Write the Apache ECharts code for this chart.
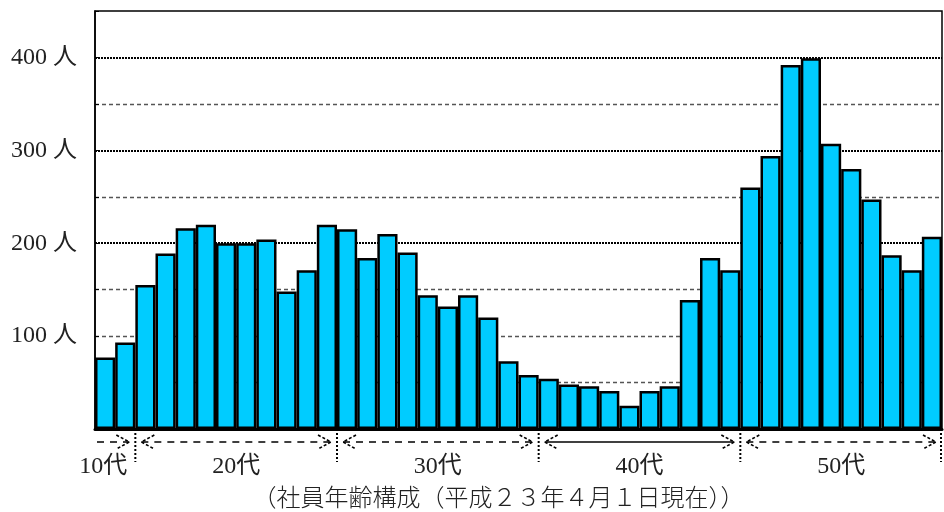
<!DOCTYPE html>
<html>
<head>
<meta charset="utf-8">
<script src="https://cdn.jsdelivr.net/npm/echarts@6/dist/echarts.min.js"></script>
<style>
html,body{margin:0;padding:0;background:#fff;}
#c{width:944px;height:512px;}
</style>
</head>
<body>
<div id="c"></div>
<script>
// ---- data ----
const ages = [18,19,20,21,22,23,24,25,26,27,28,29,30,31,32,33,34,35,36,37,38,39,40,41,42,43,44,45,46,47,48,49,50,51,52,53,54,55,56,57,58,59];
const counts = [77,93,155,189,216,220,200,200,204,148,171,220,215,184,210,190,144,132,144,120,73,58,54,48,46,41,25,41,46,139,184,171,260,294,392,399,307,280,247,187,171,207];
const yTickValues = [100,200,300,400];
const yTickSuffix = '人';
const decadeLabels = ['10代','20代','30代','40代','50代'];
const decadeStartAges = [18,20,30,40,50];
const caption = '（社員年齢構成（平成２３年４月１日現在））';
const majorGridValues = [200,300,400];

const FONT = '"Liberation Serif","DejaVu Serif","Noto Sans CJK JP",serif';
const CJK = '"Noto Sans CJK JP",sans-serif';
const chart = echarts.init(document.getElementById('c'), null, {renderer:'canvas'});

const yMin = 0, yMax = 450, yStep = 50;
const nLines = (yMax - yMin) / yStep + 1;
const minorColors = [], majorColors = [];
for (let i = 0; i < nLines; i++) {
  const v = yMin + i * yStep;
  const isMajor = majorGridValues.indexOf(v) >= 0;
  minorColors.push(isMajor || v === yMin || v === yMax ? 'rgba(0,0,0,0)' : '#555');
  majorColors.push(isMajor ? '#000' : 'rgba(0,0,0,0)');
}

chart.setOption({
  animation: false,
  backgroundColor: '#fff',
  grid: {left: 95, right: 2, top: 11, bottom: 83, show: true, borderColor: '#000', borderWidth: 1.5, backgroundColor: 'transparent'},
  xAxis: {
    type: 'category',
    data: ages,
    axisLine: {lineStyle: {color: '#000', width: 3}},
    axisTick: {show: false},
    axisLabel: {show: false}
  },
  yAxis: [{
    type: 'value', min: yMin, max: yMax, interval: yStep,
    axisLine: {show: true, lineStyle: {color: '#000', width: 1.5}},
    axisTick: {show: true, inside: true, length: 4, lineStyle: {color: '#000'}},
    axisLabel: {
      margin: 18, color: '#222', fontSize: 24, fontFamily: FONT,
      formatter: v => yTickValues.indexOf(v) >= 0 ? v + ' ' + yTickSuffix : ''
    },
    splitLine: {show: true, lineStyle: {color: minorColors, type: [4, 3], width: 1.3}}
  }, {
    type: 'value', min: yMin, max: yMax, interval: yStep, position: 'left',
    axisLine: {show: false}, axisTick: {show: false}, axisLabel: {show: false},
    splitLine: {show: true, lineStyle: {color: majorColors, type: [2, 1], width: 2.2}}
  }],
  series: [{
    type: 'bar',
    data: counts,
    barCategoryGap: '0%',
    itemStyle: {color: '#00CCFF', borderColor: '#000', borderWidth: 2.5},
    z: 3
  }]
});

// ---- decade annotations under the axis ----
const px = i => chart.convertToPixel({xAxisIndex: 0}, i);
const bw = px(1) - px(0);
const base = chart.convertToPixel({yAxisIndex: 0}, 0);
const startIdx = decadeStartAges.map(a => ages.indexOf(a));
const bounds = startIdx.map(i => px(i) - bw / 2);
bounds.push(px(ages.length - 1) + bw / 2);
const ay = base + 13;
const g = [];
const stroke = {stroke: '#000', lineWidth: 1.3};
for (let k = 0; k < decadeLabels.length; k++) {
  const s = bounds[k], e = bounds[k + 1];
  const x1 = k === 0 ? s + 2 : s + 6;
  const x2 = e - 6;
  const solid = k === 3;
  g.push({type: 'line', shape: {x1: x1, y1: ay, x2: x2, y2: ay},
    style: Object.assign({}, stroke, {lineDash: solid ? null : [7, 6]}), z: 10});
  if (k > 0) {
    g.push({type: 'polyline', shape: {points: [[s + 19, ay - 7], [s + 6, ay], [s + 19, ay + 7]]},
      style: Object.assign({}, stroke, {fill: null, lineDash: [3, 2], lineWidth: 1.6}), z: 10});
  }
  g.push({type: 'polyline', shape: {points: [[e - 19, ay - 7], [e - 6, ay], [e - 19, ay + 7]]},
    style: Object.assign({}, stroke, {fill: null, lineDash: [3, 2], lineWidth: 1.6}), z: 10});
  const cx = k === 0 ? e - 8 : (s + e) / 2;
  g.push({type: 'text', x: cx, y: base + 38,
    style: {text: decadeLabels[k], fill: '#222', font: '24px ' + FONT,
      textAlign: k === 0 ? 'right' : 'center', textVerticalAlign: 'middle'}, z: 10});
}
for (let k = 1; k < bounds.length; k++) {
  const b = bounds[k] - (k === bounds.length - 1 ? 1 : 0);
  g.push({type: 'line', shape: {x1: b, y1: base + 4, x2: b, y2: base + 33},
    style: {stroke: '#000', lineWidth: 2, lineDash: [2, 2]}, z: 10});
}
g.push({type: 'text', x: (bounds[0] + bounds[bounds.length - 1]) / 2 - 20, y: base + 68,
  style: {text: caption, fill: '#222', font: '300 24px ' + CJK, textAlign: 'center', textVerticalAlign: 'middle'}, z: 10});
chart.setOption({graphic: g});
</script>
</body>
</html>
